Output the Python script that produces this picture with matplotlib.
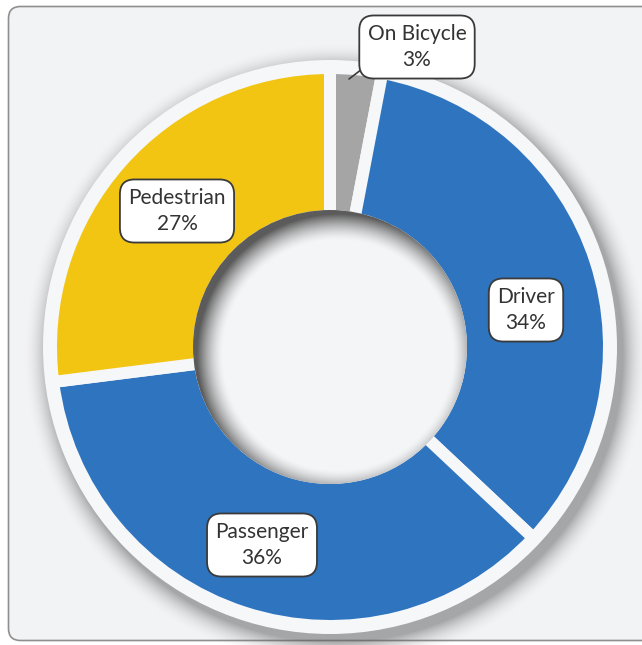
import numpy as np
import matplotlib
matplotlib.use("Agg")
import matplotlib.pyplot as plt
from matplotlib.patches import Circle, FancyBboxPatch

# ---- data ----
categories = ["On Bicycle", "Driver", "Passenger", "Pedestrian"]
shares = [3, 34, 36, 27]
colors = ["#a5a5a5", "#2e74bf", "#2e74bf", "#f2c513"]
label_pos_img = [(417, 47), (526, 310), (262, 545), (177, 211)]  # label centres (image px)

W, H = 642, 645
BG = "#f2f3f5"
RING = "#f6f7f9"
CX, CY_IMG = 330, 347
CY = H - CY_IMG
R_OUT = 273
R_IN = 137
R_RING = 287
LW_PX = 12
HALF = LW_PX / 2

plt.rcParams['font.family'] = ['Lato', 'DejaVu Sans']
fig = plt.figure(figsize=(W / 100, H / 100), dpi=100)
fig.patch.set_facecolor("white")
ax = fig.add_axes([0, 0, 1, 1])
ax.set_facecolor("white")

# panel
panel = FancyBboxPatch((8.5, 4.5), 700, 634, boxstyle="round,pad=0,rounding_size=12",
                       facecolor=BG, edgecolor="#8f8f8f", linewidth=1.2, zorder=0)
ax.add_patch(panel)

# drop shadow around the ring
yy, xx = np.mgrid[0:H, 0:W]
yy_d = H - 1 - yy + 0.5
xx_d = xx + 0.5
d = np.hypot(xx_d - (CX + 6), yy_d - (CY - 8)) - R_RING
a = np.clip(1 - d / 26.0, 0, 1) ** 2 * 0.5
a[d < -20] = 0
shadow = np.zeros((H, W, 4))
shadow[..., :3] = 0.35
shadow[..., 3] = a
ax.imshow(shadow, extent=(0, W, 0, H), origin="upper", zorder=1, interpolation="bilinear")

ax.add_patch(Circle((CX, CY), R_RING, facecolor=RING, edgecolor="none", zorder=2))

wedges, _ = ax.pie(shares, colors=colors, startangle=90, counterclock=False,
                   center=(CX, CY), radius=R_OUT + HALF,
                   wedgeprops=dict(width=R_OUT - R_IN + 2 * HALF, edgecolor=RING,
                                   linewidth=LW_PX * 0.72))
for w in wedges:
    w.set_zorder(3)

# inner hole with inset shadow
dh = np.hypot(xx_d - (CX + 8), yy_d - (CY - 8))
s = np.clip((dh - (R_IN - 22)) / 26.0, 0, 1) ** 1.5
bg_rgb = np.array(matplotlib.colors.to_rgb("#f4f5f7"))
dark = np.array([0.36, 0.36, 0.36])
hole = np.zeros((H, W, 4))
hole[..., :3] = bg_rgb * (1 - s[..., None]) + dark * s[..., None]
hole[..., 3] = 1
im = ax.imshow(hole, extent=(0, W, 0, H), origin="upper", zorder=4, interpolation="bilinear")
clip = Circle((CX, CY), R_IN, transform=ax.transData)
im.set_clip_path(clip)

# labels
box = dict(boxstyle="round,pad=0.4,rounding_size=0.7", facecolor="white",
           edgecolor="#3a3a3a", linewidth=1.3)
for cat, val, (lx, ly) in zip(categories, shares, label_pos_img):
    txt = f"{cat}\n{val}%"
    if cat == "On Bicycle":
        ax.annotate(txt, xy=(349, H - 79), xytext=(lx, H - ly), ha="center", va="center",
                    fontsize=15, color="#333333", linespacing=1.4, bbox=box, zorder=6,
                    arrowprops=dict(arrowstyle="-", color="#3a3a3a", lw=1.2,
                                    shrinkA=0, shrinkB=0, relpos=(0.02, 0.15)))
    else:
        ax.text(lx, H - ly, txt, ha="center", va="center", fontsize=15,
                color="#333333", linespacing=1.4, bbox=box, zorder=6)

ax.set_xlim(0, W)
ax.set_ylim(0, H)
ax.set_aspect("auto")
ax.axis("off")
fig.savefig("out.png", dpi=100, facecolor="white")
